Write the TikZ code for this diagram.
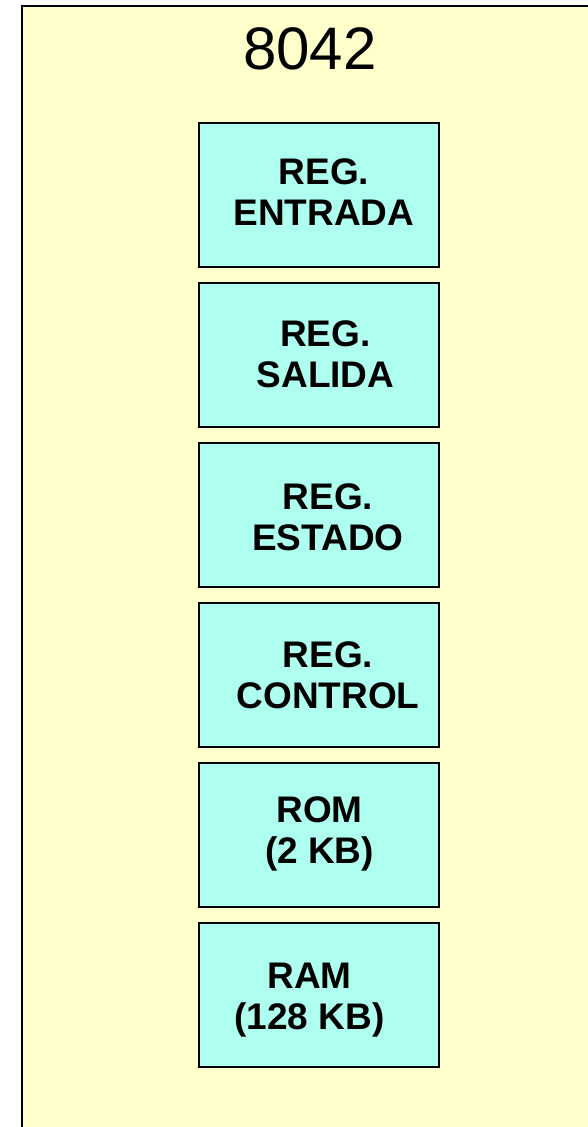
\documentclass[tikz,border=0pt]{standalone}
\usepackage{fontspec}
\setmainfont{Liberation Sans}
\definecolor{chipfill}{HTML}{FFFFCC}
\definecolor{regfill}{HTML}{AEFFF0}
\begin{document}
\begin{tikzpicture}[x=1pt,y=-1pt,
  chip/.style={draw=black,line width=2pt,fill=chipfill},
  regbox/.style={draw=black,line width=1.4pt,fill=regfill,rectangle,
    minimum width=240pt,minimum height=144pt,inner sep=0pt,outer sep=0pt},
  reglabel/.style={align=center,inner sep=0pt,
    font=\fontsize{37}{41}\selectfont\bfseries},
  titlelabel/.style={inner sep=0pt,font=\fontsize{60}{66}\selectfont}]
  \useasboundingbox (0,0) rectangle (588,1127);
  % chip outline, running off the right and bottom edges
  \begin{scope}
    \clip (0,0) rectangle (588,1127);
    \draw[chip] (22,5.5) rectangle (610,1150);
  \end{scope}
  \node[titlelabel] (title) at (310,49) {8042};
  % internal blocks
  \node[regbox] (rin)  at (319,195) {};
  \node[regbox] (rout) at (319,355) {};
  \node[regbox] (rst)  at (319,515) {};
  \node[regbox] (rctl) at (319,675) {};
  \node[regbox] (rom)  at (319,835) {};
  \node[regbox] (ram)  at (319,995) {};
  \node[reglabel] (rintxt)  at (324,192) {REG.\\ENTRADA};
  \node[reglabel] (routtxt) at (325.5,354) {REG.\\SALIDA};
  \node[reglabel] (rsttxt)  at (328,517) {REG.\\ESTADO};
  \node[reglabel] (rctltxt) at (328,675) {REG.\\CONTROL};
  \node[reglabel] (romtxt)  at (319.5,834) {ROM\\(2 KB)};
  \node[reglabel] (ramtxt)  at (309.5,1000) {RAM\\(128 KB)};
\end{tikzpicture}
\end{document}
